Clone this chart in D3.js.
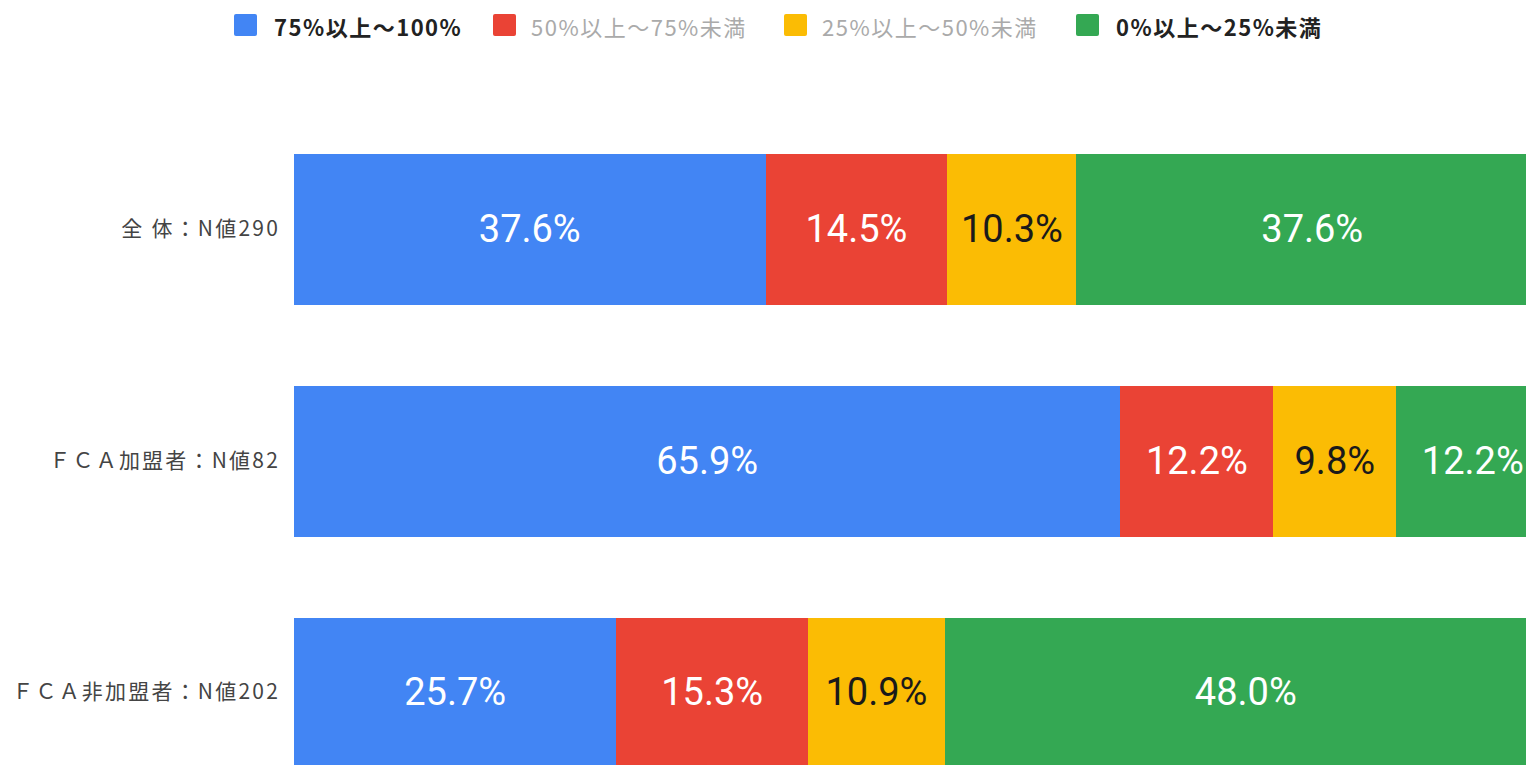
<!DOCTYPE html>
<html>
<head>
<meta charset="utf-8">
<script src="https://cdn.jsdelivr.net/npm/d3@7"></script>
<style>
  body { margin: 0; background: #fff; }
  svg { display: block; }
</style>
</head>
<body>
<svg class="chart"></svg>
<script>
// data
var categories = ["全 体：N値290", "ＦＣＡ加盟者：N値82", "ＦＣＡ非加盟者：N値202"];
var seriesNames = ["75%以上～100%", "50%以上～75%未満", "25%以上～50%未満", "0%以上～25%未満"];
var s75to100 = [37.6, 65.9, 25.7];
var s50to75 = [14.5, 12.2, 15.3];
var s25to50 = [10.3, 9.8, 10.9];
var s0to25 = [37.6, 12.2, 48.0];

var colors = ["#4285F4", "#EA4335", "#FBBC04", "#34A853"];
var labelColors = ["#fff", "#fff", "#1a1a1a", "#fff"];
// legend entries 2 and 3 are greyed out in the picture
var legendActive = [true, false, false, true];

var chartWidth = 1526, chartHeight = 765;

var rows = categories.map(function (c, i) {
    return { cat: c, v: [s75to100[i], s50to75[i], s25to50[i], s0to25[i]] };
});

var chart = d3.select(".chart")
    .attr("width", chartWidth)
    .attr("height", chartHeight);

// the chart runs past the right edge of the picture
var x = d3.scaleLinear().domain([0, 100]).range([294, 1548]);
var y = d3.scaleBand().domain(categories).range([154, 769]).paddingInner(0.349);

var stacked = d3.stack().keys([0, 1, 2, 3]).value(function (d, k) { return d.v[k]; })(rows);

var layer = chart.selectAll("g.layer")
    .data(stacked)
    .enter().append("g")
    .attr("class", "layer")
    .attr("fill", function (d, i) { return colors[i]; });

layer.selectAll("rect")
    .data(function (d) { return d; })
    .enter().append("rect")
    .attr("x", function (d) { return x(d[0]); })
    .attr("y", function (d) { return y(d.data.cat); })
    .attr("width", function (d) { return x(d[1]) - x(d[0]); })
    .attr("height", y.bandwidth())
    .attr("shape-rendering", "crispEdges");

layer.each(function (s, i) {
    d3.select(this).selectAll("text")
        .data(s)
        .enter().append("text")
        .attr("x", function (d) { return (x(d[0]) + x(d[1])) / 2; })
        .attr("y", function (d) { return y(d.data.cat) + y.bandwidth() / 2 - 1; })
        .attr("text-anchor", "middle")
        .attr("dominant-baseline", "central")
        .style("font-family", "Roboto, sans-serif")
        .style("font-size", "38px")
        .style("fill", labelColors[i])
        .text(function (d) { return d.data.v[i].toFixed(1) + "%"; });
});

// category labels
chart.append("g").selectAll("text")
    .data(categories)
    .enter().append("text")
    .attr("x", 280)
    .attr("y", function (d) { return y(d) + y.bandwidth() / 2 - 3; })
    .attr("text-anchor", "end")
    .attr("dominant-baseline", "central")
    .style("font-family", "'Noto Sans CJK JP', sans-serif")
    .style("font-size", "21px")
    .style("letter-spacing", "2.2px")
    .style("fill", "#444")
    .text(function (d) { return d; });

// legend
var legendX = [234, 493, 784, 1076];
var legend = chart.append("g").selectAll("g")
    .data(seriesNames)
    .enter().append("g")
    .attr("transform", function (d, i) { return "translate(" + legendX[i] + ",25)"; });

legend.append("rect")
    .attr("x", 0).attr("y", -11)
    .attr("width", 23).attr("height", 22)
    .attr("rx", 2)
    .attr("fill", function (d, i) { return colors[i]; });

legend.append("text")
    .attr("x", function (d, i) { return i == 0 || i == 3 ? 40 : 38; })
    .attr("y", 1)
    .attr("dominant-baseline", "central")
    .style("font-family", "'Noto Sans CJK JP', sans-serif")
    .style("font-size", "22px")
    .style("letter-spacing", "1.5px")
    .style("font-weight", function (d, i) { return legendActive[i] ? "bold" : "normal"; })
    .style("fill", function (d, i) { return legendActive[i] ? "#222" : "#aaa"; })
    .text(function (d) { return d; });
</script>
</body>
</html>
